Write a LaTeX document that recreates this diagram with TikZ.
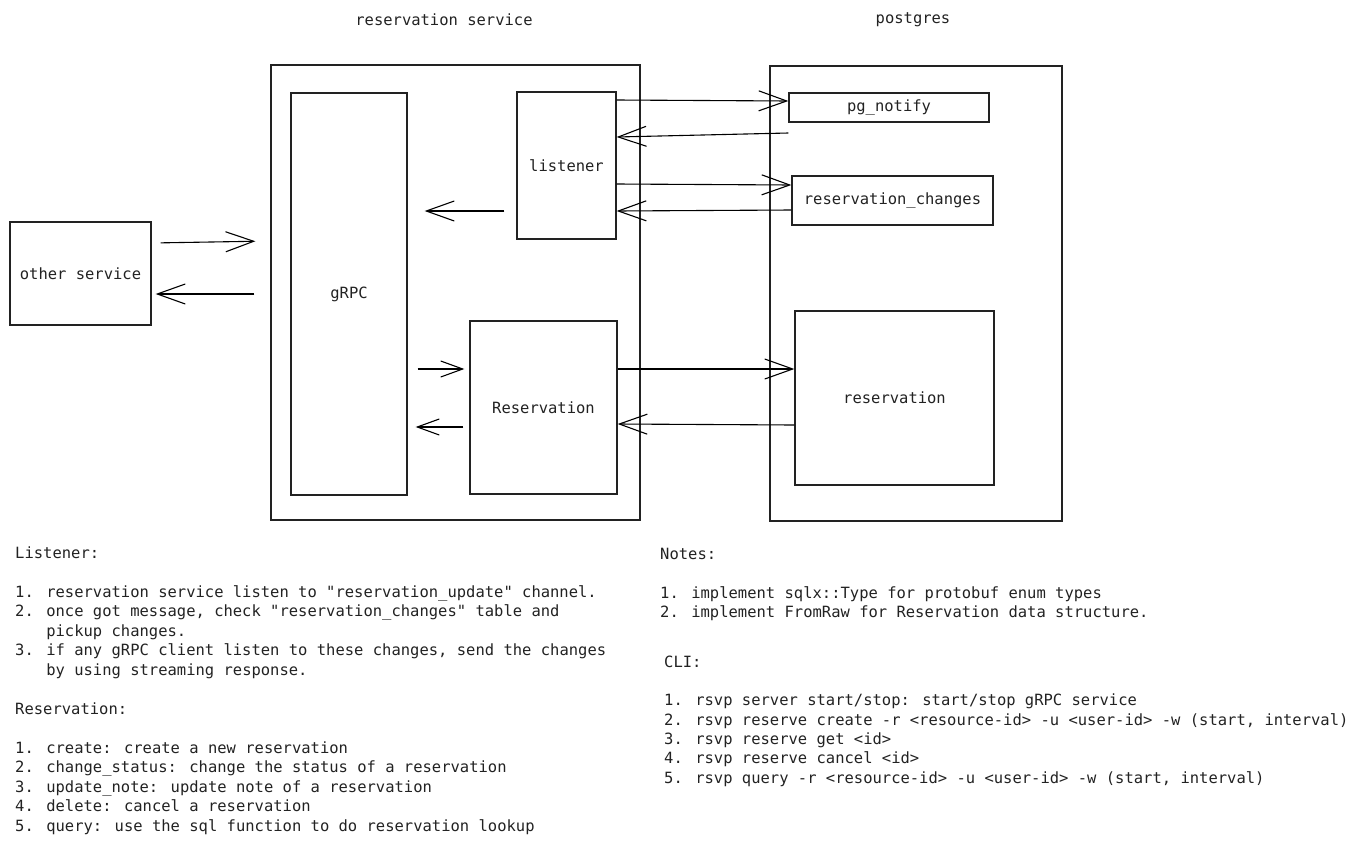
\documentclass[tikz,border=0pt]{standalone}
\usepackage{fontspec}
\newfontfamily\mono{DejaVu Sans Mono}
\usetikzlibrary{arrows.meta}
\definecolor{ink}{HTML}{222222}
\begin{document}
\begin{tikzpicture}[x=1pt,y=-1pt,
  every node/.style={font=\mono\fontsize{15.5}{19.5}\selectfont, text=ink},
  box/.style={draw=ink, line width=1.3pt, inner sep=0pt},
  arr/.style={draw=black, line width=1.1pt, -{Straight Barb[length=28pt,width=20pt,line width=1.1pt]}},
  sarr/.style={draw=black, line width=1.1pt, -{Straight Barb[length=22pt,width=16pt,line width=1.1pt]}},
  txt/.style={align=left, inner sep=0pt, anchor=north west}
]
\useasboundingbox (0,0) rectangle (1358,844);

% titles
\node (t1) at (444,20) {reservation service};
\node (t2) at (913,20) {postgres};

% reservation service
\node[box, minimum width=369pt, minimum height=455pt] (rs) at (455.5,292.5) {};
\node[box, minimum width=116pt, minimum height=402pt] (grpc) at (349,294) {gRPC};
\node[box, minimum width=99pt, minimum height=147pt] (lis) at (566.5,165.5) {listener};
\node[box, minimum width=147pt, minimum height=173pt] (res) at (543.5,407.5) {Reservation};

% other service
\node[box, minimum width=141pt, minimum height=103pt] (oth) at (80.5,273.5) {other service};

% postgres
\node[box, minimum width=292pt, minimum height=455pt] (pg) at (916,293.5) {};
\node[box, minimum width=200pt, minimum height=29pt] (pgn) at (889,107.5) {pg\_notify};
\node[box, minimum width=201pt, minimum height=49pt] (rch) at (892.5,200.5) {reservation\_changes};
\node[box, minimum width=199pt, minimum height=174pt] (rpg) at (894.5,398) {reservation};

% connectors
\draw[arr] (lis.east |- 0,100) -- (pgn.west |- 0,101);
\draw[arr] (pgn.west |- 0,133) -- (lis.east |- 0,137);
\draw[arr] (lis.east |- 0,184) -- (rch.west |- 0,185);
\draw[arr] (rch.west |- 0,210) -- (lis.east |- 0,211);
\draw[arr, shorten <=9pt, shorten >=15pt] (oth.east |- 0,243) -- (rs.west |- 0,241);
\draw[arr, shorten <=16pt, shorten >=4pt] (rs.west |- 0,294) -- (oth.east |- 0,294);
\draw[arr, shorten <=12pt, shorten >=17pt] (lis.west |- 0,211) -- (grpc.east |- 0,211);
\draw[sarr, shorten <=10pt, shorten >=5pt] (grpc.east |- 0,369) -- (res.west |- 0,369);
\draw[sarr, shorten <=6pt, shorten >=8pt] (res.west |- 0,427) -- (grpc.east |- 0,427);
\draw[arr] (res.east |- 0,369) -- (rpg.west |- 0,369);
\draw[arr] (rpg.west |- 0,425) -- (res.east |- 0,424);

% notes
\node[txt] (left) at (15,546) {\rule{0pt}{12pt}Listener:\\
\strut\\
1. reservation service listen to "reservation\_update" channel.\\
2. once got message, check "reservation\_changes" table and\\
\hphantom{2. }pickup changes.\\
3. if any gRPC client listen to these changes, send the changes\\
\hphantom{3. }by using streaming response.\\
\strut\\
Reservation:\\
\strut\\
1. create: create a new reservation\\
2. change\_status: change the status of a reservation\\
3. update\_note: update note of a reservation\\
4. delete: cancel a reservation\\
5. query: use the sql function to do reservation lookup};

\node[txt] (notes) at (660,547) {\rule{0pt}{12pt}Notes:\\
\strut\\
1. implement sqlx::Type for protobuf enum types\\
2. implement FromRaw for Reservation data structure.};

\node[txt, font=\mono\fontsize{15.5}{19.3}\selectfont] (cli) at (664,655) {\rule{0pt}{12pt}CLI:\\
\rule{0pt}{14pt}\\
1. rsvp server start/stop: start/stop gRPC service\\
2. rsvp reserve create -r <resource-id> -u <user-id> -w (start, interval)\\
3. rsvp reserve get <id>\\
4. rsvp reserve cancel <id>\\
5. rsvp query -r <resource-id> -u <user-id> -w (start, interval)};
\end{tikzpicture}
\end{document}
